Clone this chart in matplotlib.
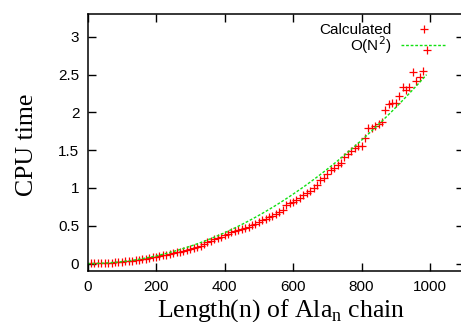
import numpy as np
import matplotlib
matplotlib.use('Agg')
import matplotlib.pyplot as plt
from matplotlib.ticker import FuncFormatter


# длина цепочки Ala_n
chain_length = np.arange(10, 1000, 10)

cpu_time = [
    0.001, 0.002, 0.004, 0.006, 0.008, 0.010, 0.013, 0.017, 0.021, 0.025,
    0.029, 0.034, 0.040, 0.046, 0.053, 0.060, 0.067, 0.074, 0.082, 0.090,
    0.098, 0.107, 0.117, 0.127, 0.137, 0.148, 0.159, 0.171, 0.183, 0.196,
    0.209, 0.223, 0.238, 0.255, 0.280, 0.300, 0.320, 0.338, 0.356, 0.375,
    0.395, 0.412, 0.428, 0.443, 0.458, 0.472, 0.487, 0.510, 0.530, 0.551,
    0.575, 0.595, 0.613, 0.635, 0.652, 0.678, 0.705, 0.775, 0.795, 0.812,
    0.838, 0.870, 0.905, 0.935, 0.960, 1.005, 1.040, 1.100, 1.135, 1.190,
    1.235, 1.270, 1.300, 1.330, 1.410, 1.450, 1.490, 1.525, 1.550, 1.560,
    1.655, 1.790, 1.800, 1.815, 1.845, 1.870, 2.035, 2.105, 2.120, 2.130,
    2.220, 2.330, 2.295, 2.330, 2.530, 2.420, 2.475, 2.550, 2.830,
]

# аппроксимация O(N^2): t = k * n^2
FIT_K = 2.55e-6
fit_n = np.arange(0, 1000, 10)

x_ticks = [0, 200, 400, 600, 800, 1000]
y_ticks = [0, 0.5, 1, 1.5, 2, 2.5, 3]


fig = plt.figure(figsize=(4.61, 3.22), dpi=100)
ax = fig.add_axes([0.19, 0.158, 0.817, 0.798])

ax.plot(chain_length, cpu_time, linestyle='none', marker='+', markersize=6,
        markeredgewidth=0.9, color='#ff0000', label='Calculated')
ax.plot(fit_n, FIT_K * fit_n**2, color='#11e011', linewidth=1.0,
        linestyle=(0, (2, 1.3)), label='O(N$^2$)')

ax.set_xlim(0, 1100)
ax.set_ylim(-0.1, 3.3)
ax.set_xticks(x_ticks)
ax.set_yticks(y_ticks)
ax.yaxis.set_major_formatter(FuncFormatter(lambda v, p: '%g' % v))

ax.tick_params(direction='in', top=True, right=True, length=5.5, width=1.0,
               labelsize=11)
ax.tick_params(axis='x', pad=6.5)
ax.tick_params(axis='y', pad=6)
for lab in ax.get_xticklabels() + ax.get_yticklabels():
    lab.set_family('Liberation Sans')
for sp in ax.spines.values():
    sp.set_linewidth(1.1)

ax.set_xlabel('Length(n) of Ala$_\\mathregular{n}$ chain', family='Liberation Serif',
              fontsize=18.5, va='baseline')
ax.set_ylabel('CPU time', family='Liberation Serif', fontsize=18.5)
ax.xaxis.set_label_coords(0.513, -0.175)
ax.yaxis.set_label_coords(-0.132, 0.49)

leg = ax.legend(loc='upper right', bbox_to_anchor=(0.951, 0.965), frameon=False,
                markerfirst=False, borderpad=0, borderaxespad=0,
                handlelength=2.9, handletextpad=0.65, labelspacing=-0.2,
                prop={'family': 'Liberation Sans', 'size': 11})
for t in leg.get_texts():
    t.set_ha('right')

fig.savefig('out.png', dpi=100)
